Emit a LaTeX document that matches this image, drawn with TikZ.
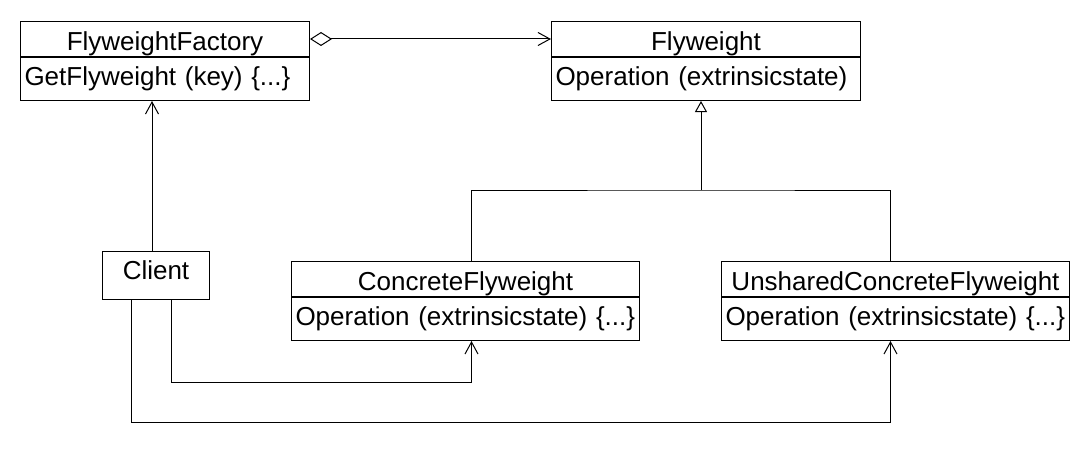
\documentclass[tikz,border=0pt]{standalone}
\usepackage{fontspec}
\setmainfont{Liberation Sans}
\usepackage{tikz}
\usetikzlibrary{arrows.meta}
\usetikzlibrary{positioning, calc}
\tikzset{
    classbox/.style = {draw=black, line width=1pt, inner ysep=0pt,
        font=\fontsize{26}{30}\selectfont},
    classname/.style = {classbox, inner xsep=0pt, text height=29pt,
        text depth=6pt, minimum width=#1, anchor=north west},
    classop/.style = {classbox, inner xsep=4pt, text height=28pt,
        text depth=15pt, text width=#1, align=left},
    client/.style = {classbox, inner xsep=0pt, text height=28pt,
        text depth=20pt, minimum width=107pt, anchor=north west},
    aggr/.style = {{Diamond[open,length=22pt,width=14pt]}->},
    inherit/.style = {-{Triangle[open,length=11pt,width=12pt]}},
}

\begin{document}
\begin{tikzpicture}[x=1pt,y=-1pt,line width=1pt,
    >={Straight Barb[length=12pt,width=13pt]}]
        \useasboundingbox (0,0) rectangle (1090,460);
        % classes
        \node [classname=289pt] (ff) at (20,21) {FlyweightFactory};
        \node [classop=281pt, below=0pt of ff] (ffop) {GetFlyweight (key) \{...\}};
        \node [classname=309pt] (fw) at (551,21) {Flyweight};
        \node [classop=301pt, below=0pt of fw] (fwop) {Operation (extrinsicstate)};
        \node [classname=348pt] (cf) at (291,261) {ConcreteFlyweight};
        \node [classop=340pt, below=0pt of cf] (cfop) {Operation (extrinsicstate)~\{...\}};
        \node [classname=348pt] (uc) at (721,261) {UnsharedConcreteFlyweight};
        \node [classop=340pt, below=0pt of uc] (ucop) {Operation (extrinsicstate)~\{...\}};
        \node [client] (cl) at (102,251) {Client};
        \coordinate (fork) at (701,190);
        % connectors
        \draw [aggr] (ff.east) -- (fw.west);
        \draw [inherit] (fork) -- (fork |- fwop.south);
        \draw ([xshift=6pt]cf.north) |- (fork) -| ([xshift=-5pt]uc.north);
        \draw [->] ([xshift=-4pt]cl.north) -- ([xshift=-4pt]cl.north |- ffop.south);
        \draw [->] ([xshift=15pt]cl.south) |- ([xshift=6pt,yshift=-41pt]cfop.south)
            -- ([xshift=6pt]cfop.south);
        \draw [->] ([xshift=-25pt]cl.south) |- ([xshift=-5pt,yshift=-81pt]ucop.south)
            -- ([xshift=-5pt]ucop.south);
\end{tikzpicture}
\end{document}
